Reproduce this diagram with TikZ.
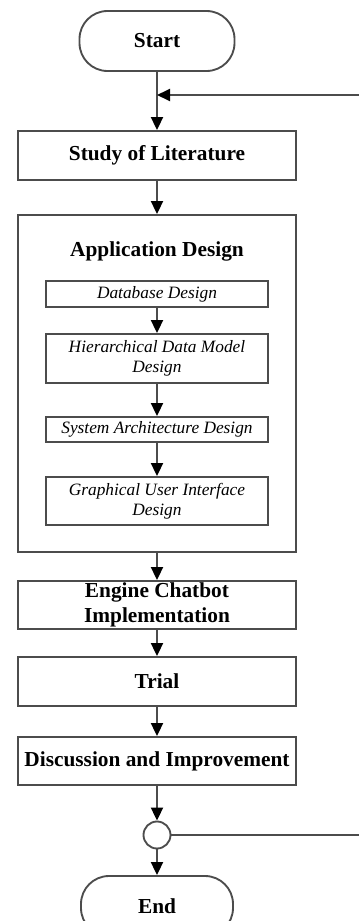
\documentclass[tikz,border=0pt]{standalone}
\usepackage{fontspec}
\setmainfont{Liberation Serif}
\usetikzlibrary{arrows.meta}
\newcommand{\px}{0.75pt}
\definecolor{linegray}{gray}{0.3}

\begin{document}
\begin{tikzpicture}[x=\px, y=-\px,
    rect/.style={draw=linegray, line width=1.4pt, rectangle, minimum width=278*\px, minimum height=49*\px, inner sep=0pt, align=center, font=\fontsize{16}{18.75}\selectfont\bfseries},
    sub/.style={rect, minimum width=222*\px, font=\fontsize{13}{15}\selectfont\itshape},
    term/.style={rect, rounded corners=28*\px, minimum width=155*\px, minimum height=60*\px},
    arr/.style={draw=linegray, line width=1.4pt, -{Triangle[length=9.75pt, width=9pt, color=black]}}]
    \useasboundingbox (0,0) rectangle (359,921);

    % Main column
    \node[term] (start) at (157,41) {Start};
    \node[rect] (study) at (157,155.5) {Study of Literature};
    \node[rect, minimum height=337*\px] (app) at (157,383.5) {};
    \node[font=\fontsize{16}{18.75}\selectfont\bfseries] (apptitle) at (157,251) {Application Design};

    % Inside Application Design
    \node[sub, minimum height=26*\px] (db) at (157,294) {Database Design};
    \node[sub] (hdm) at (157,358.5) {Hierarchical Data Model\\Design};
    \node[sub, minimum height=25*\px] (sad) at (157,429.5) {System Architecture Design};
    \node[sub, minimum height=48*\px] (gui) at (157,501) {Graphical User Interface\\Design};

    \node[rect, minimum height=48*\px] (engine) at (157,605) {Engine Chatbot\\Implementation};
    \node[rect] (trial) at (157,681.5) {Trial};
    \node[rect, minimum height=48*\px] (disc) at (157,761) {Discussion and Improvement};
    \node[circle, draw=linegray, line width=1.4pt, minimum size=27*\px, inner sep=0pt] (junc) at (157,835) {};
    \node[term, minimum width=152*\px] (end) at (157,906) {End};

    % Loop back
    \coordinate (merge) at (157,95);
    \coordinate (loop-out) at (400,835);
    \coordinate (loop-in) at (400,95);

    % Arrows
    \draw[arr] (start) -- (study);
    \draw[arr] (study) -- (app);
    \draw[arr] (db) -- (hdm);
    \draw[arr] (hdm) -- (sad);
    \draw[arr] (sad) -- (gui);
    \draw[arr] (app) -- (engine);
    \draw[arr] (engine) -- (trial);
    \draw[arr] (trial) -- (disc);
    \draw[arr] (disc) -- (junc);
    \draw[arr] (junc) -- (end);
    \draw[arr] (junc.east) -- (loop-out) -- (loop-in) -- (merge);

\end{tikzpicture}
\end{document}
